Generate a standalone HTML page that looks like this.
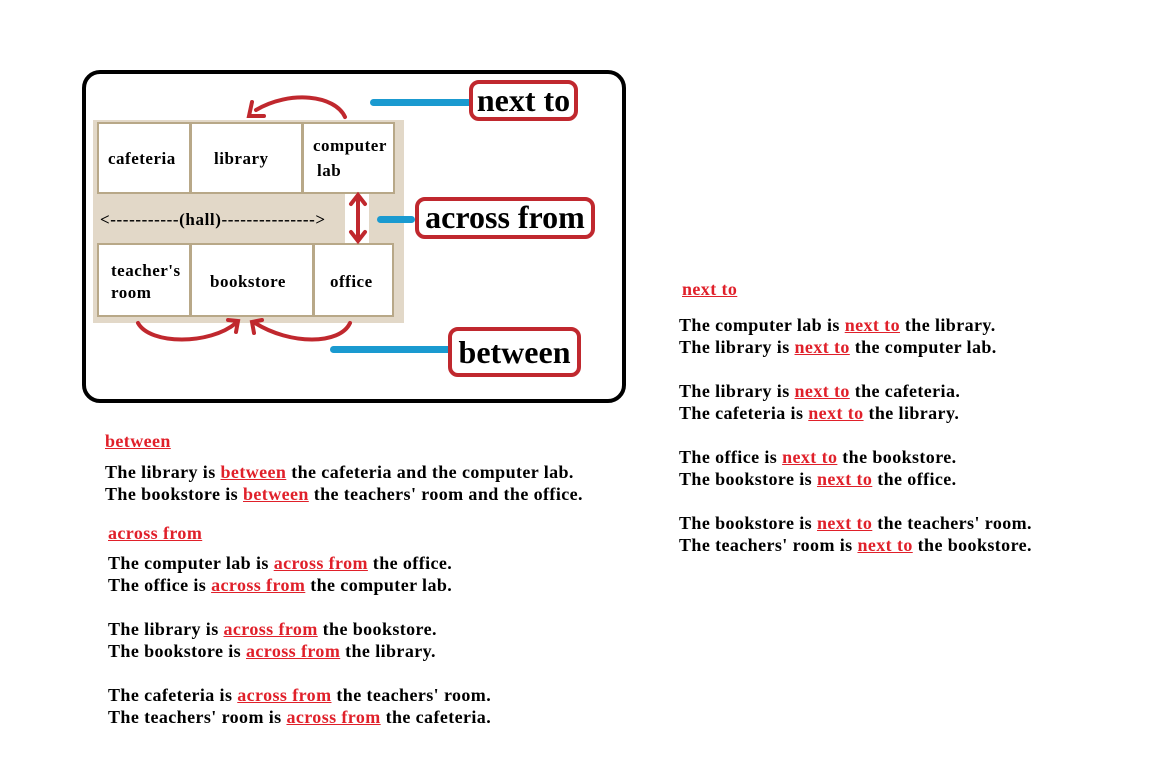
<!DOCTYPE html>
<html><head><meta charset="utf-8"><style>
body{margin:0;width:1154px;height:770px;background:#fff;position:relative;overflow:hidden;font-family:"Liberation Serif",serif;font-weight:bold;}
.a{position:absolute;white-space:nowrap;}
.t{font-size:18px;letter-spacing:0.4px;color:#000;line-height:22px;}
.r{color:#e0202a;text-decoration:underline;}
.room{position:absolute;background:#fff;border:2px solid #b8a888;box-sizing:border-box;font-size:17px;letter-spacing:0.5px;}
.lbl{position:absolute;border:4px solid #c0282e;border-radius:10px;box-sizing:border-box;font-size:32px;letter-spacing:0px;text-align:center;line-height:32px;}
.bl{position:absolute;height:7px;background:#1a9ad0;border-radius:4px;}
</style></head><body>
<div class="a" style="left:82px;top:70px;width:544px;height:333px;border:4px solid #000;border-radius:18px;box-sizing:border-box;"></div>
<div class="a" style="left:93px;top:120px;width:311px;height:203px;background:#e2d8c8;"></div>
<div class="a" style="left:345px;top:193px;width:24px;height:50px;background:#fff;"></div>
<div class="room" style="left:97px;top:122px;width:94px;height:72px;"><span class="a" style="left:9px;top:25px">cafeteria</span></div>
<div class="room" style="left:190px;top:122px;width:113px;height:72px;"><span class="a" style="left:22px;top:25px">library</span></div>
<div class="room" style="left:302px;top:122px;width:93px;height:72px;"><span class="a" style="left:9px;top:12px">computer</span><span class="a" style="left:13px;top:37px">lab</span></div>
<div class="a t" style="left:100px;top:209px;font-size:17px;letter-spacing:0.6px;">&lt;-----------(hall)---------------&gt;</div>
<div class="room" style="left:97px;top:243px;width:94px;height:74px;"><span class="a" style="left:12px;top:16px">teacher's</span><span class="a" style="left:12px;top:38px">room</span></div>
<div class="room" style="left:190px;top:243px;width:124px;height:74px;"><span class="a" style="left:18px;top:27px">bookstore</span></div>
<div class="room" style="left:313px;top:243px;width:81px;height:74px;"><span class="a" style="left:15px;top:27px">office</span></div>
<svg class="a" style="left:0;top:0" width="1154" height="770">
<g fill="none" stroke="#c0282e" stroke-width="4" stroke-linecap="round">
<path d="M345 117 C335 95 290 90 256 110"/><path d="M252 102 L249 116 L264 116"/>
<path d="M358 196 L358 240"/><path d="M351 204 L358 195 L365 204"/><path d="M351 232 L358 241 L365 232"/>
<path d="M138 323 C150 345 210 345 236 323"/><path d="M228 320 L238 321 L236 332"/>
<path d="M350 323 C340 345 290 345 255 323"/><path d="M262 320 L252 322 L254 333"/>
</g></svg>
<div class="bl" style="left:370px;top:99px;width:102px;"></div>
<div class="bl" style="left:377px;top:216px;width:38px;"></div>
<div class="bl" style="left:330px;top:346px;width:122px;"></div>
<div class="lbl" style="left:469px;top:80px;width:109px;height:41px;">next to</div>
<div class="lbl" style="left:415px;top:197px;width:180px;height:42px;">across from</div>
<div class="lbl" style="left:448px;top:327px;width:133px;height:50px;line-height:42px;">between</div>

<div class="a t" style="left:105px;top:430px"><span class="r">between</span></div>
<div class="a t" style="left:105px;top:461px">The library is <span class="r">between</span> the cafeteria and the computer lab.</div>
<div class="a t" style="left:105px;top:483px">The bookstore is <span class="r">between</span> the teachers' room and the office.</div>
<div class="a t" style="left:108px;top:522px"><span class="r">across from</span></div>
<div class="a t" style="left:108px;top:552px">The computer lab is <span class="r">across from</span> the office.</div>
<div class="a t" style="left:108px;top:574px">The office is <span class="r">across from</span> the computer lab.</div>
<div class="a t" style="left:108px;top:618px">The library is <span class="r">across from</span> the bookstore.</div>
<div class="a t" style="left:108px;top:640px">The bookstore is <span class="r">across from</span> the library.</div>
<div class="a t" style="left:108px;top:684px">The cafeteria is <span class="r">across from</span> the teachers' room.</div>
<div class="a t" style="left:108px;top:706px">The teachers' room is <span class="r">across from</span> the cafeteria.</div>

<div class="a t" style="left:682px;top:278px"><span class="r">next to</span></div>
<div class="a t" style="left:679px;top:314px">The computer lab is <span class="r">next to</span> the library.</div>
<div class="a t" style="left:679px;top:336px">The library is <span class="r">next to</span> the computer lab.</div>
<div class="a t" style="left:679px;top:380px">The library is <span class="r">next to</span> the cafeteria.</div>
<div class="a t" style="left:679px;top:402px">The cafeteria is <span class="r">next to</span> the library.</div>
<div class="a t" style="left:679px;top:446px">The office is <span class="r">next to</span> the bookstore.</div>
<div class="a t" style="left:679px;top:468px">The bookstore is <span class="r">next to</span> the office.</div>
<div class="a t" style="left:679px;top:512px">The bookstore is <span class="r">next to</span> the teachers' room.</div>
<div class="a t" style="left:679px;top:534px">The teachers' room is <span class="r">next to</span> the bookstore.</div>
</body></html>
